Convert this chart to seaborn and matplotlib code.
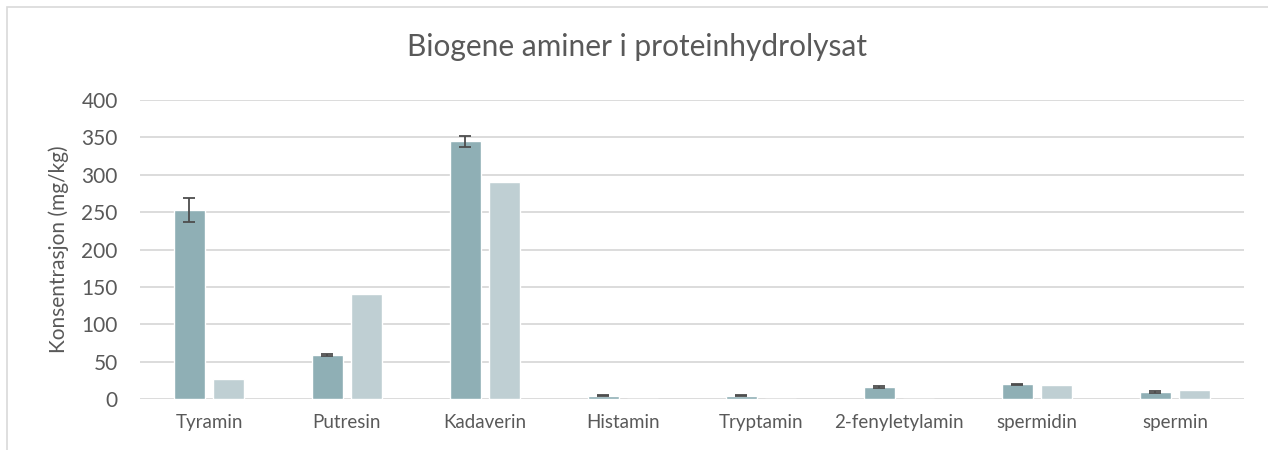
import matplotlib
matplotlib.use('Agg')
import matplotlib.pyplot as plt
import seaborn as sns
import pandas as pd
from matplotlib.patches import Rectangle

# Data
amines = ['Tyramin', 'Putresin', 'Kadaverin', 'Histamin', 'Tryptamin',
          '2-fenyletylamin', 'spermidin', 'spermin']
series1 = [253, 59, 345, 4.5, 4.5, 16, 19.5, 9.5]
series1_err = [16, 1.5, 7.5, 1, 1, 1, 1, 1]
series2 = [27, 140, 290, 0, 0, 0, 18.5, 11.5]
series_names = ['Serie 1', 'Serie 2']
yticks = [0, 50, 100, 150, 200, 250, 300, 350, 400]

df = pd.DataFrame({
    'amin': amines * 2,
    'serie': [series_names[0]] * len(amines) + [series_names[1]] * len(amines),
    'verdi': series1 + series2,
})

sns.set_style('white')
plt.rcParams['font.family'] = ['Lato', 'DejaVu Sans']

text_col = '#595959'
grid_col = '#D9D9D9'

fig = plt.figure(figsize=(12.68, 4.5), dpi=100)
ax = fig.add_axes([140 / 1268, 51 / 450, 1104 / 1268, 299 / 450])

sns.barplot(data=df, x='amin', y='verdi', hue='serie', ax=ax,
            palette=['#8FAFB5', '#BFCFD3'], saturation=1,
            width=0.573, gap=0.216,
            errorbar=None, legend=False, zorder=3)

# error bars only on first series
xs = [p.get_x() + p.get_width() / 2 for p in ax.containers[0]]
ax.errorbar(xs, series1, yerr=series1_err, fmt='none', ecolor='#4D4D4D',
            elinewidth=1.3, capsize=4.3, capthick=1.3, zorder=4)

ax.set_ylim(0, 400)
ax.set_xlim(-0.5, len(amines) - 0.5)
ax.set_yticks(yticks)
ax.yaxis.grid(True, color=grid_col, linewidth=1.3, zorder=0)
ax.set_axisbelow(True)
for s in ax.spines.values():
    s.set_visible(False)

ax.tick_params(axis='y', length=0, pad=16, labelsize=15, labelcolor=text_col)
ax.tick_params(axis='x', length=0, pad=11, labelsize=13.5, labelcolor=text_col)
ax.set_xlabel('')
ax.set_ylabel('Konsentrasjon (mg/kg)', fontsize=15, color=text_col)
ax.yaxis.set_label_coords(-71 / 1104, 0.5)

fig.text(637 / 1268, 1 - 47 / 450, 'Biogene aminer i proteinhydrolysat',
         ha='center', va='center', fontsize=21.5, color=text_col)

# light chart frame (bottom runs past the image edge)
fig.patches.append(Rectangle((7 / 1268, -0.1), 1.2, 1.1 - 7 / 450,
                             transform=fig.transFigure, fill=False,
                             edgecolor=grid_col, linewidth=1.2))

fig.savefig('out.png', dpi=100)
